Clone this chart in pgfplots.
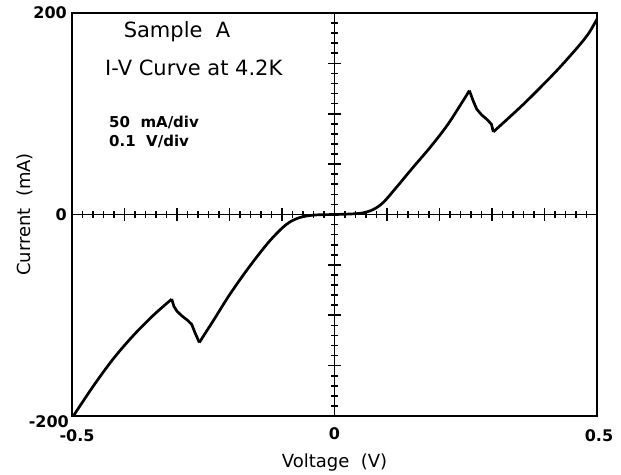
\documentclass[border=0pt]{standalone}
\usepackage{pgfplots}
\pgfplotsset{compat=1.18}
\usepackage{fontspec}
\setmainfont{DejaVu Sans}
\begin{document}
\begin{tikzpicture}
\begin{axis}[
  scale only axis, width=525pt, height=403pt,
  xmin=-0.5, xmax=0.5, ymin=-200, ymax=200,
  axis lines=middle,
  axis line style={-, line width=1.8pt, black},
  xtick={-0.5,-0.4,-0.3,-0.2,-0.1,0,0.1,0.2,0.3,0.4,0.5},
  ytick={-200,-150,-100,-50,0,50,100,150,200},
  minor x tick num=4, minor y tick num=4,
  xticklabels={}, yticklabels={},
  tick align=center,
  major tick length=12pt, minor tick length=7pt,
  every tick/.style={black, line width=1.6pt},
  clip mode=individual,
]
\addplot[black, line width=2.7pt, smooth, tension=0.55] coordinates {
(-0.500,-202) (-0.459,-170) (-0.421,-143) (-0.383,-120) (-0.345,-100) (-0.310,-84)
};
\addplot[black, line width=2.7pt, line join=round] coordinates {
(-0.310,-84) (-0.306,-91) (-0.300,-96) (-0.291,-100.5) (-0.280,-105) (-0.272,-109) (-0.266,-117) (-0.2575,-127)
};
\addplot[black, line width=2.7pt, smooth, tension=0.55] coordinates {
(-0.2575,-127) (-0.231,-105.5) (-0.199,-79) (-0.161,-51) (-0.123,-26) (-0.091,-9.6) (-0.066,-3) (-0.040,-0.6) (-0.020,-0.2) (0,0) (0.020,0.3) (0.040,0.8) (0.055,1.7) (0.074,5) (0.093,12) (0.118,27) (0.150,47) (0.182,66.5) (0.214,88) (0.239,108) (0.257,123)
};
\addplot[black, line width=2.7pt, line join=round] coordinates {
(0.257,123) (0.264,113) (0.271,104.5) (0.280,99) (0.290,94.6) (0.299,89.6) (0.3025,82)
};
\addplot[black, line width=2.7pt, smooth, tension=0.55] coordinates {
(0.3025,82) (0.330,95) (0.360,109.5) (0.392,126) (0.423,142.6) (0.448,157) (0.468,169) (0.485,180.5) (0.500,194)
};
\draw[line width=2.5pt, black] (rel axis cs:0,0) rectangle (rel axis cs:1,1);
% tick labels
\node[anchor=east, font=\fontsize{16}{18}\selectfont\bfseries, inner sep=0pt] at ([xshift=-5pt]rel axis cs:0,1) {200};
\node[anchor=east, font=\fontsize{16}{18}\selectfont\bfseries, inner sep=0pt] at ([xshift=-5pt]axis cs:-0.5,0) {0};
\node[anchor=east, font=\fontsize{16}{18}\selectfont\bfseries, inner sep=0pt] at ([xshift=-3pt,yshift=-6pt]rel axis cs:0,0) {-200};
\node[anchor=north, font=\fontsize{16}{18}\selectfont\bfseries, inner sep=0pt] at ([xshift=5pt,yshift=-13pt]rel axis cs:0,0) {-0.5};
\node[anchor=north, font=\fontsize{16}{18}\selectfont\bfseries, inner sep=0pt] at ([yshift=-11pt]axis cs:0,-200) {0};
\node[anchor=north, font=\fontsize{16}{18}\selectfont\bfseries, inner sep=0pt] at ([xshift=2pt,yshift=-13pt]rel axis cs:1,0) {0.5};
% axis labels
\node[font=\fontsize{18}{20}\selectfont] at ([yshift=-47pt]rel axis cs:0.5,0) {Voltage\ \ (V)};
\node[font=\fontsize{18}{20}\selectfont, rotate=90] at ([xshift=-47pt]rel axis cs:0,0.5) {Current\ \ (mA)};
% annotations
\node[font=\fontsize{21}{24}\selectfont] at (rel axis cs:0.2,0.953) {Sample\ \ A};
\node[font=\fontsize{21}{24}\selectfont] at (rel axis cs:0.232,0.864) {I-V Curve at 4.2K};
\node[anchor=west, font=\fontsize{15}{17}\selectfont\bfseries, inner sep=0pt] at (rel axis cs:0.0705,0.729) {50\ \ mA/div};
\node[anchor=west, font=\fontsize{15}{17}\selectfont\bfseries, inner sep=0pt] at (rel axis cs:0.0705,0.680) {0.1\ \ V/div};
\end{axis}
\pgfresetboundingbox
\path[use as bounding box] (-72pt,-58pt) rectangle (549pt,416pt);
\end{tikzpicture}
\end{document}
